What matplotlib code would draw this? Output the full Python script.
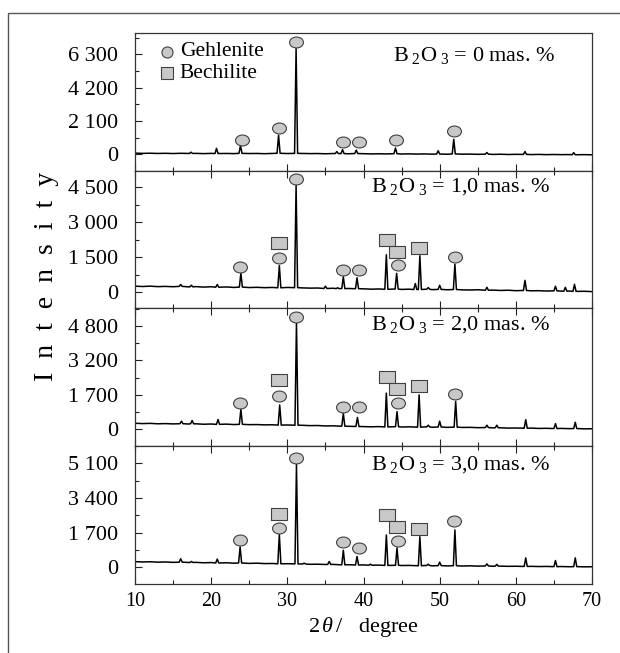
import numpy as np
import matplotlib
matplotlib.use('Agg')
import matplotlib.pyplot as plt
from matplotlib.path import Path
from matplotlib.patches import Rectangle
from matplotlib.ticker import MultipleLocator
from matplotlib.transforms import Affine2D

plt.rcParams['font.family'] = ['Liberation Serif', 'DejaVu Serif']
plt.rcParams['mathtext.fontset'] = 'custom'
plt.rcParams['mathtext.rm'] = 'Liberation Serif'
plt.rcParams['mathtext.it'] = 'Liberation Serif:italic'

# 2theta grid for the background (one value per degree)
two_theta = list(range(10, 71))

# ---- B2O3 = 0 mas. % ----
base_0 = [70, 55, 65, 50, 60, 45, 60, 50, 55, 40, 55, 45, 50, 40, 55, 45, 50, 35, 50, 60,
          45, 55, 50, 40, 45, 30, 45, 40, 30, 45, 35, 20, 30, 20, 35, 15, 25, 10, 20, 5,
          15, 0, 20, 5, 10, -5, 5, -10, 0, -15, -5, -10, -20, -10, -25, -15, -25, -20, -30, -25, -35]
peak_pos_0 = [17.35, 20.7, 23.85, 28.85, 31.15, 36.5, 37.25, 39.05, 44.2, 49.8, 51.85, 56.2, 61.2, 67.6]
peak_top_0 = [130, 370, 550, 1200, 6650, 170, 285, 260, 395, 220, 940, 110, 170, 100]
geh_x_0 = [24.0, 28.95, 31.15, 37.3, 39.45, 44.3, 51.9]
geh_y_0 = [900, 1680, 7070, 750, 750, 870, 1480]
bech_x_0 = []
bech_y_0 = []

# ---- B2O3 = 1,0 mas. % ----
base_1 = [250, 235, 250, 230, 240, 225, 240, 220, 230, 210, 225, 205, 215, 195, 210, 190, 200, 185, 195, 180,
          195, 185, 175, 165, 170, 150, 160, 145, 150, 140, 135, 120, 130, 115, 125, 110, 120, 105, 115, 100,
          110, 95, 105, 90, 85, 95, 75, 80, 65, 75, 55, 65, 50, 55, 40, 50, 35, 40, 25, 30, 15]
peak_pos_1 = [16.0, 17.4, 20.8, 23.9, 28.95, 31.15, 35.0, 36.6, 37.35, 39.15, 43.0, 44.35, 46.8, 47.4,
              48.5, 50.0, 52.0, 56.2, 61.2, 65.2, 66.5, 67.7]
peak_top_1 = [320, 290, 320, 800, 1135, 4600, 250, 180, 655, 610, 1600, 800, 365, 1560,
              190, 290, 1195, 200, 500, 245, 200, 330]
geh_x_1 = [23.85, 28.95, 31.15, 37.35, 39.45, 44.57, 51.95]
geh_y_1 = [1090, 1456, 4850, 946, 946, 1165, 1500]
bech_x_1 = [28.95, 43.13, 44.44, 47.33]
bech_y_1 = [2110, 2257, 1718, 1893]

# ---- B2O3 = 2,0 mas. % ----
base_2 = [280, 265, 275, 255, 265, 250, 260, 245, 255, 235, 245, 230, 240, 220, 230, 215, 220, 205, 210, 195,
          200, 190, 185, 170, 175, 155, 160, 145, 140, 130, 125, 115, 125, 110, 120, 105, 115, 100, 110, 95,
          105, 90, 100, 85, 90, 75, 80, 65, 70, 55, 60, 50, 55, 40, 45, 35, 40, 30, 35, 20, 25]
peak_pos_2 = [16.1, 17.5, 20.9, 23.9, 29.0, 31.2, 37.35, 39.2, 43.0, 44.4, 47.3, 48.5, 50.0, 52.1,
              56.2, 57.5, 61.3, 65.2, 67.8]
peak_top_2 = [377, 410, 455, 925, 1130, 5000, 740, 550, 1680, 820, 1600, 190, 377, 1290,
              190, 190, 450, 264, 326]
geh_x_2 = [23.8, 28.95, 31.15, 37.3, 39.45, 44.57, 52.0]
geh_y_2 = [1210, 1570, 5235, 1020, 1020, 1240, 1630]
bech_x_2 = [28.95, 43.13, 44.44, 47.33]
bech_y_2 = [2275, 2430, 1870, 2025]

# ---- B2O3 = 3,0 mas. % ----
base_3 = [275, 260, 270, 250, 260, 240, 250, 235, 240, 220, 230, 210, 220, 200, 210, 190, 200, 180, 185, 170,
          175, 165, 160, 145, 150, 135, 140, 120, 125, 110, 115, 100, 105, 90, 95, 85, 90, 75, 85, 70,
          80, 65, 75, 60, 70, 55, 65, 50, 55, 45, 50, 40, 45, 35, 40, 30, 35, 25, 30, 20, 25]
peak_pos_3 = [16.0, 17.4, 20.8, 23.8, 28.95, 31.2, 32.2, 35.5, 37.35, 39.15, 40.9, 43.0, 44.4, 47.4,
              48.5, 50.0, 52.0, 56.2, 57.5, 61.3, 65.2, 67.8]
peak_top_3 = [417, 283, 400, 1000, 1617, 5050, 200, 283, 833, 533, 150, 1583, 950, 1500,
              150, 250, 1833, 167, 140, 460, 330, 460]
geh_x_3 = [23.8, 28.95, 31.15, 37.35, 39.45, 44.57, 51.93]
geh_y_3 = [1333, 1930, 5350, 1250, 950, 1283, 2283]
bech_x_3 = [28.95, 43.13, 44.44, 47.33]
bech_y_3 = [2600, 2583, 1967, 1883]

panel_labels = ['0', '1,0', '2,0', '3,0']
ytick_pos = [[0, 2100, 4200, 6300], [0, 1500, 3000, 4500], [0, 1600, 3200, 4800], [0, 1700, 3400, 5100]]
ytick_lab = [['0', '2 100', '4 200', '6 300'], ['0', '1 500', '3 000', '4 500'],
             ['0', '1 700', '3 200', '4 800'], ['0', '1 700', '3 400', '5 100']]
ylims = [(-1055, 7636), (-690, 5206), (-777, 5639), (-823, 5957)]

bases = [base_0, base_1, base_2, base_3]
peak_pos = [peak_pos_0, peak_pos_1, peak_pos_2, peak_pos_3]
peak_top = [peak_top_0, peak_top_1, peak_top_2, peak_top_3]
geh = [(geh_x_0, geh_y_0), (geh_x_1, geh_y_1), (geh_x_2, geh_y_2), (geh_x_3, geh_y_3)]
bech = [(bech_x_0, bech_y_0), (bech_x_1, bech_y_1), (bech_x_2, bech_y_2), (bech_x_3, bech_y_3)]


def build_pattern(base, pos, top, hw=0.2):
    xs = [x for x in two_theta if all(abs(x - p) > hw for p in pos)]
    ys = [base[x - 10] for x in xs]
    for p, t in zip(pos, top):
        foot = base[int(round(p)) - 10]
        xs += [p - hw, p, p + hw]
        ys += [foot, t, foot]
    order = np.argsort(xs)
    return np.array(xs)[order], np.array(ys)[order]


uc = Path.unit_circle()
ellipse = Path(Affine2D().scale(1.27, 1.0).transform(uc.vertices), uc.codes)
rect = [(-1.45, -1), (1.45, -1), (1.45, 1), (-1.45, 1), (-1.45, -1)]
fill_c = '#c8c8c8'
edge_c = '#404040'

W, H = 620, 653
fig = plt.figure(figsize=(W / 100, H / 100), dpi=100)

tops = [33, 171, 308, 446]
bots = [171, 308, 446, 584]
axes = []
for i in range(4):
    ax = fig.add_axes([135 / W, 1 - bots[i] / H, 457 / W, (bots[i] - tops[i]) / H])
    axes.append(ax)
    x, y = build_pattern(bases[i], peak_pos[i], peak_top[i])
    ax.plot(x, y, color='black', lw=1.1)
    ax.plot(geh[i][0], geh[i][1], ls='none', marker=ellipse, ms=10, mfc=fill_c, mec=edge_c, mew=0.8)
    if bech[i][0]:
        ax.plot(bech[i][0], bech[i][1], ls='none', marker=rect, ms=11.5, mfc=fill_c, mec=edge_c, mew=0.8)
    ax.set_xlim(10, 70)
    ax.set_ylim(*ylims[i])
    ax.set_yticks(ytick_pos[i], ytick_lab[i])
    ax.yaxis.set_minor_locator(MultipleLocator(ytick_pos[i][1] / 2))
    ax.xaxis.set_major_locator(MultipleLocator(10))
    ax.xaxis.set_minor_locator(MultipleLocator(5))
    ax.tick_params(which='both', direction='in', top=(i > 0), right=False, colors='#222222',
                   labelcolor='black', width=0.8)
    ax.tick_params(which='major', length=5)
    ax.tick_params(which='minor', length=3)
    ax.tick_params(axis='y', labelsize=16, pad=12)
    ax.tick_params(axis='x', labelsize=14.5, pad=6, labelbottom=(i == 3))
    for s in ax.spines.values():
        s.set_color('#333333')
        s.set_linewidth(0.9)
    lab_x = 0.919 if i == 0 else 0.909
    lab_y = [0.84, 0.885, 0.877, 0.862][i]
    ax.text(lab_x, lab_y, r'B$_{\ 2}$O$_{\ 3}$ = ' + panel_labels[i] + ' mas. %',
            transform=ax.transAxes, ha='right', va='center', fontsize=16)

# legend in the top panel
ax0 = axes[0]
ax0.plot([0.071], [0.865], transform=ax0.transAxes, marker='o', ms=8, mfc=fill_c, mec=edge_c, mew=0.8)
ax0.plot([0.071], [0.708], transform=ax0.transAxes, marker='s', ms=8, mfc=fill_c, mec=edge_c, mew=0.8)
ax0.text(0.098, 0.865, 'Gehlenite', transform=ax0.transAxes, ha='left', va='center', fontsize=15.5)
ax0.text(0.098, 0.708, 'Bechilite', transform=ax0.transAxes, ha='left', va='center', fontsize=15.5)

fig.text(363.5 / W, 1 - 627 / H, r'2$\,\mathit{\theta}\,$/   degree', ha='center', va='center', fontsize=16)
fig.text(47 / W, 1 - 276 / H, 'I  n  t  e  n  s  i  t  y', rotation=90, ha='center', va='center', fontsize=20)

# outer frame (cropped on right and bottom)
fig.add_artist(Rectangle((8 / W, -0.1), 1.2, 1 - 13 / H + 0.1, transform=fig.transFigure,
                         fill=False, ec='#555555', lw=1.0))

fig.savefig('out.png', dpi=100)
